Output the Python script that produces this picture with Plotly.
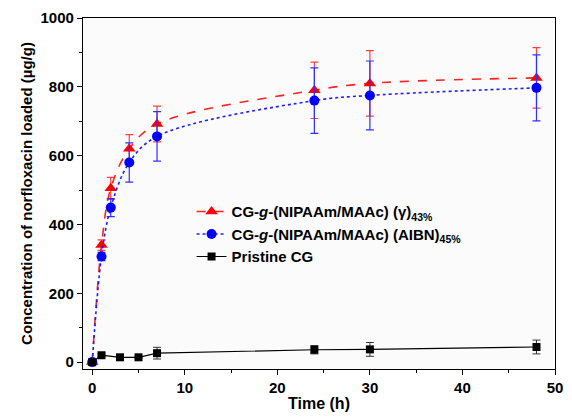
import plotly.graph_objects as go

# Data
t_gamma = [0, 1, 2, 4, 7, 24, 30, 48]
y_gamma = [0, 340, 505, 620, 692, 790, 810, 826]
e_gamma = [5, 15, 32, 41, 52, 82, 95, 88]

t_aibn = [0, 1, 2, 4, 7, 24, 30, 48]
y_aibn = [0, 307, 449, 580, 656, 760, 775, 797]
e_aibn = [5, 12, 26, 57, 72, 95, 100, 96]

t_cg = [0, 1, 3, 5, 7, 24, 30, 48]
y_cg = [0, 20, 14, 14, 26, 36, 37, 44]
e_cg = [3, 4, 3, 3, 17, 12, 20, 20]

x_ticks = [0, 10, 20, 30, 40, 50]
y_ticks = [0, 200, 400, 600, 800, 1000]

FONT = "Liberation Sans, Arial, sans-serif"

fig = go.Figure()

fig.add_trace(go.Scatter(
    x=t_gamma, y=y_gamma, mode="lines+markers",
    name="<b>CG-<i>g</i>-(NIPAAm/MAAc) (γ)<sub>43%</sub></b>",
    line=dict(color="#ff2020", width=1.6, dash="dash", shape="spline", smoothing=1.0),
    marker=dict(symbol="triangle-up", size=11, color="#ff0000"),
    error_y=dict(type="data", array=e_gamma, color="#ff4040", thickness=1.2, width=4),
))

fig.add_trace(go.Scatter(
    x=t_aibn, y=y_aibn, mode="lines+markers",
    name="<b>CG-<i>g</i>-(NIPAAm/MAAc) (AIBN)<sub>45%</sub></b>",
    line=dict(color="#2020ff", width=1.6, dash="dot", shape="spline", smoothing=1.0),
    marker=dict(symbol="circle", size=10, color="#0000ff"),
    error_y=dict(type="data", array=e_aibn, color="#3030ff", thickness=1.2, width=4),
))

fig.add_trace(go.Scatter(
    x=t_cg, y=y_cg, mode="lines+markers",
    name="<b>Pristine CG</b>",
    line=dict(color="#000000", width=1.2),
    marker=dict(symbol="square", size=8, color="#000000"),
    error_y=dict(type="data", array=e_cg, color="#333333", thickness=1, width=4),
))

axis_common = dict(
    showline=True, linecolor="#000", linewidth=1.2, mirror=True,
    showgrid=False, zeroline=False,
    ticks="outside", ticklen=5, tickwidth=1.2, tickcolor="#000",
    tickfont=dict(family=FONT, size=15, color="#000", weight="bold"),
)

fig.update_xaxes(
    range=[-1, 50], tickvals=x_ticks,
    title=dict(text="<b>Time (h)</b>", font=dict(family=FONT, size=16, color="#000"), standoff=2),
    minor=dict(ticks="outside", ticklen=3, tickwidth=1, tickcolor="#000", dtick=5, tick0=0),
    **axis_common,
)
fig.update_yaxes(
    range=[-20, 1000], tickvals=y_ticks,
    title=dict(text="<b>Concentration of norfloxacin loaded (µg/g)</b>",
               font=dict(family=FONT, size=15, color="#000"), standoff=4),
    minor=dict(ticks="outside", ticklen=3, tickwidth=1, tickcolor="#000", dtick=100, tick0=0),
    **axis_common,
)

fig.update_layout(
    width=572, height=419,
    margin=dict(l=83, r=9, t=16, b=50),
    paper_bgcolor="white", plot_bgcolor="#fbfbfb",
    font=dict(family=FONT, size=15, color="#000"),
    legend=dict(x=0.23, y=0.495, xanchor="left", yanchor="top",
                bgcolor="rgba(0,0,0,0)", font=dict(family=FONT, size=15, color="#000"),
                tracegroupgap=0, itemwidth=30),
)

fig.write_html("out.html")
